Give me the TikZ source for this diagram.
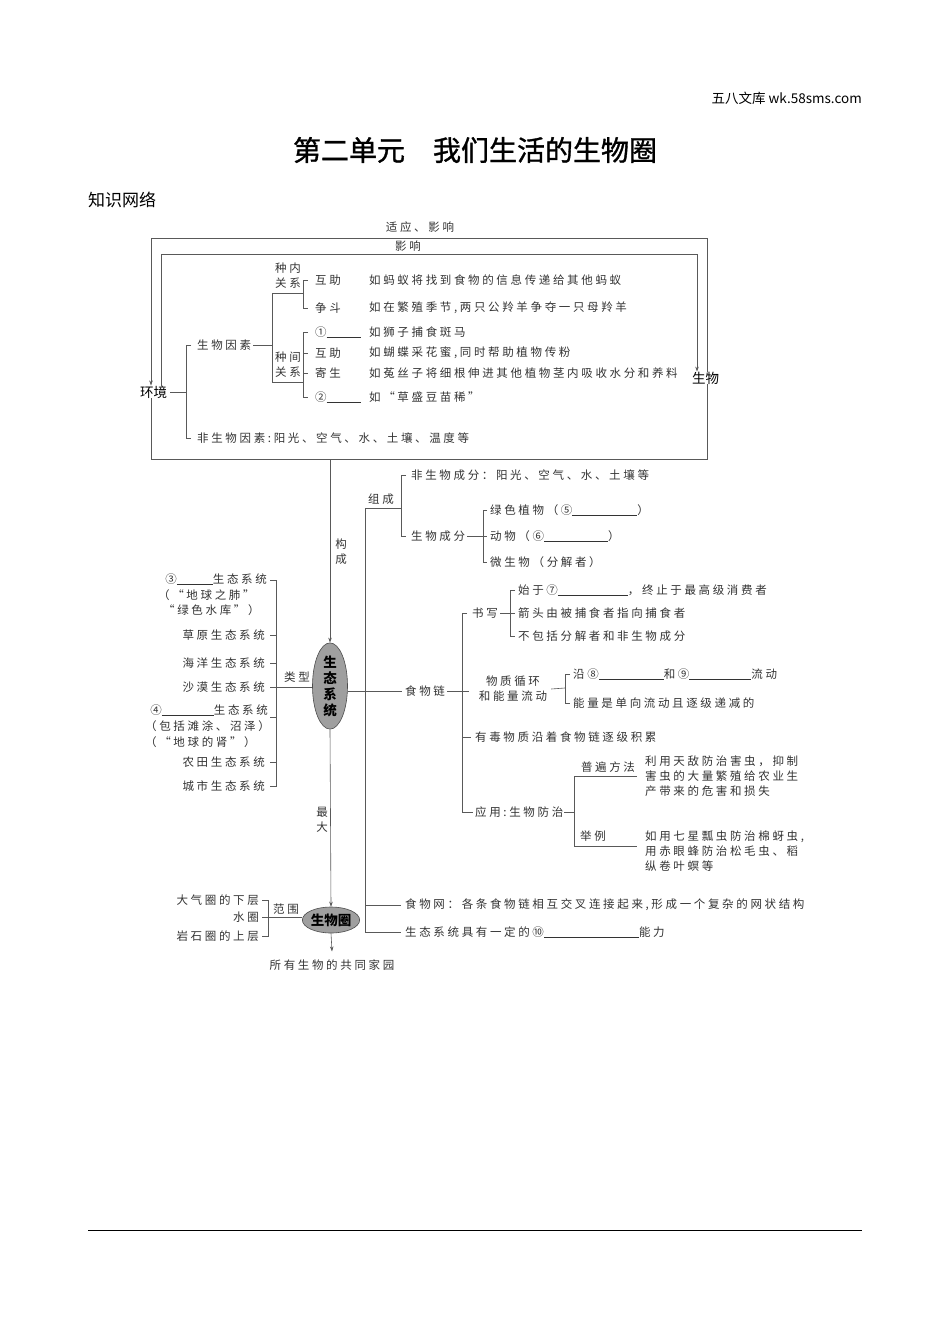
\documentclass[tikz,border=0pt]{standalone}
\usepackage{fontspec}
\newfontfamily\cjk{Noto Sans CJK SC}
\newfontfamily\cjkb[FakeBold=1.2]{Noto Sans CJK SC}
\newfontfamily\cjksp[LetterSpace=23]{Noto Sans CJK SC}
\usetikzlibrary{arrows.meta,shapes.geometric}
\newcommand{\blank}[1]{\rule[-1.5pt]{#1pt}{0.5pt}}
\begin{document}
\begin{tikzpicture}[x=1pt,y=-1pt,
 tx/.style={font={\cjksp\fontsize{11.5}{15}\selectfont},text=black!80,inner sep=0pt,anchor=west},
 txe/.style={tx,anchor=east},
 lab/.style={tx,anchor=center,align=center},
 ln/.style={draw=black!65,line width=0.6pt},
 arr/.style={ln,-{Stealth[length=5pt,width=3.5pt]}},
 big/.style={font={\cjk\fontsize{13.5}{16}\selectfont},text=black,inner sep=0pt},
 oval/.style={ellipse,draw=black!70,fill=gray!75,line width=0.6pt,inner sep=0pt,
   font={\cjk\bfseries\fontsize{13.5}{16}\selectfont},text=black,align=center}]
\useasboundingbox (0,0) rectangle (950,1344);
\fill[white] (0,0) rectangle (950,1344);

% header
\node[big,anchor=east] (hdr) at (862,98) {五八文库 wk.58sms.com};
\node[font={\cjkb\fontsize{28}{32}\selectfont},inner sep=0pt] (title) at (475,150) {第二单元　我们生活的生物圈};
\node[font={\cjk\fontsize{17}{20}\selectfont},inner sep=0pt,anchor=west] (kn) at (88,200) {知识网络};

% top box
\node[big,anchor=west] (env) at (140,392) {环境};
\node[big,anchor=west] (bio) at (692,378) {生物};
\coordinate (otl) at (151,238); \coordinate (obr) at (707,459);
\coordinate (itl) at (161,254); \coordinate (itr) at (697,254);
\draw[ln] (env.south -| otl) -- (otl |- obr) -- (obr) -- (bio.south -| obr);
\draw[arr] (bio.north -| obr) -- (obr |- otl) -- (otl) -- (env.north -| otl);
\draw[arr] (env.north -| itl) -- (itl) -- (itr) -- (bio.north -| itr);
\node[lab] (adapt) at (420,227) {适应、影响};
\node[lab] (infl) at (408,246) {影响};

% factors
\node[tx] (bf) at (197,345) {生物因素};
\node[tx] (abf) at (197,438) {非生物因素:阳光、空气、水、土壤、温度等};
\coordinate (s1) at (186,392);
\draw[ln] ([xshift=3pt]env.east) -- (s1);
\draw[ln] ([xshift=-6pt]bf.west) -| (s1 |- abf.west) -- ([xshift=-6pt]abf.west);

\coordinate (s2a) at (272,293); \coordinate (s2b) at (272,382);
\coordinate (s3) at (303,293); \coordinate (s4) at (303,382);
\draw[ln] ([xshift=2pt]bf.east) -- (s2a |- bf.east);
\draw[ln] (s3) -- (s2a) -- (s2b) -- (s4);
\node[lab] (znl) at (288,275.5) {种内\\关系};
\node[lab] (jnl) at (288,365) {种间\\关系};

\node[tx] (zn1) at (315,280) {互助};
\node[tx] (zn2) at (315,308) {争斗};
\node[tx] (ex1) at (369,280) {如蚂蚁将找到食物的信息传递给其他蚂蚁};
\node[tx] (ex2) at (369,308) {如在繁殖季节,两只公羚羊争夺一只母羚羊};
\draw[ln] ([xshift=-7pt]zn1.west) -| (s3 |- zn2.west) -- ([xshift=-7pt]zn2.west);

\node[tx] (jn1) at (315,332) {①\blank{34}};
\node[tx] (jn2) at (315,353) {互助};
\node[tx] (jn3) at (315,373) {寄生};
\node[tx] (jn4) at (315,397) {②\blank{34}};
\node[tx] (jx1) at (369,332) {如狮子捕食斑马};
\node[tx] (jx2) at (369,353) {如蝴蝶采花蜜,同时帮助植物传粉};
\node[tx] (jx3) at (369,373) {如菟丝子将细根伸进其他植物茎内吸收水分和养料};
\node[tx] (jx4) at (369,397) {如“草盛豆苗稀”};
\draw[ln] ([xshift=-7pt]jn1.west) -| (s4 |- jn4.west) -- ([xshift=-7pt]jn4.west);
\draw[ln] (s4 |- jn2.west) -- ([xshift=-7pt]jn2.west);
\draw[ln] (s4 |- jn3.west) -- ([xshift=-7pt]jn3.west);

% ecosystem
\node[oval,minimum width=35pt,minimum height=85pt] (eco) at (330,686) {生\\态\\系\\统};
\coordinate (bb) at (330,459);
\draw[arr] (bb) -- (eco.north);
\node[lab] (gc) at (341,552) {构\\成};

\coordinate (v1) at (365,508); \coordinate (v2) at (365,932);
\coordinate (s5) at (401,508);
\draw[ln] (v2) -- (v1) -- (s5);
\node[lab] (zc) at (381,499) {组成};
\node[tx] (c1) at (411,475) {非生物成分：阳光、空气、水、土壤等};
\node[tx] (c2) at (411,536) {生物成分};
\draw[ln] ([xshift=-5pt]c1.west) -| (s5 |- c2.west) -- ([xshift=-5pt]c2.west);
\coordinate (s6) at (483,536);
\draw[ln] ([xshift=2pt]c2.east) -- (s6);
\node[tx] (d1) at (490,510) {绿色植物（⑤\blank{65}）};
\node[tx] (d2) at (490,536) {动物（⑥\blank{64}）};
\node[tx] (d3) at (490,562) {微生物（分解者）};
\draw[ln] ([xshift=-3pt]d1.west) -| (s6 |- d3.west) -- ([xshift=-3pt]d3.west);
\draw[ln] (s6) -- ([xshift=-3pt]d2.west);

% food chain
\node[tx] (fc) at (405,691) {食物链};
\draw[ln] (eco.east |- fc.west) -- ([xshift=-3pt]fc.west);
\coordinate (s7a) at (462,613); \coordinate (s7b) at (462,812);
\node[tx] (sx) at (472,613) {书写};
\node[lab] (wz) at (513,689) {物质循环\\和能量流动};
\node[tx] (yd) at (475,737) {有毒物质沿着食物链逐级积累};
\node[tx] (yy) at (475,812) {应用:生物防治};
\draw[ln] ([xshift=2pt]fc.east) -- ([xshift=-10pt]wz.west |- fc.east);
\draw[ln] ([xshift=-5pt]sx.west) -| (s7b) -- ([xshift=-2pt]yy.west);
\draw[ln] (s7a |- yd.west) -- ([xshift=-4pt]yd.west);

\coordinate (s8) at (510,613);
\draw[ln] ([xshift=2pt]sx.east) -- (s8);
\node[tx] (w1) at (518,590) {始于⑦\blank{70}，终止于最高级消费者};
\node[tx] (w2) at (518,613) {箭头由被捕食者指向捕食者};
\node[tx] (w3) at (518,636) {不包括分解者和非生物成分};
\draw[ln] ([xshift=-3pt]w1.west) -| (s8 |- w3.west) -- ([xshift=-3pt]w3.west);
\draw[ln] (s8) -- ([xshift=-3pt]w2.west);

\coordinate (s9) at (565,688);
\draw[ln] ([xshift=4pt]wz.east) -- (s9);
\node[tx] (f1) at (573,674) {沿⑧\blank{65}和⑨\blank{62}流动};
\node[tx] (f2) at (573,703) {能量是单向流动且逐级递减的};
\draw[ln] ([xshift=-3pt]f1.west) -| (s9 |- f2.west) -- ([xshift=-3pt]f2.west);

\coordinate (s10) at (574,812);
\coordinate (s10a) at (574,776); \coordinate (s10b) at (574,846);
\coordinate (e10a) at (637,776); \coordinate (e10b) at (637,846);
\draw[ln] ([xshift=1pt]yy.east) -- (s10);
\draw[ln] (e10a) -- (s10a) -- (s10b) -- (e10b);
\node[lab] (pb) at (608,767) {普遍方法};
\node[tx] (jl) at (580,836) {举例};
\node[tx,align=left] (g1) at (645,776) {利用天敌防治害虫，抑制\\害虫的大量繁殖给农业生\\产带来的危害和损失};
\node[tx,align=left] (g2) at (645,851) {如用七星瓢虫防治棉蚜虫,\\用赤眼蜂防治松毛虫、稻\\纵卷叶螟等};

\node[tx] (n1) at (405,905) {食物网：各条食物链相互交叉连接起来,形成一个复杂的网状结构};
\node[tx] (n2) at (405,932) {生态系统具有一定的⑩\blank{95}能力};
\draw[ln] (v1 |- n1.west) -- ([xshift=-4pt]n1.west);
\draw[ln] (v2) -- ([xshift=-4pt]n2.west);

% types
\node[txe] (t1) at (267,579) {③\blank{36}生态系统};
\node[tx] (t1b) at (158,595) {（“地球之肺”};
\node[tx] (t1c) at (163,610) {“绿色水库”）};
\node[txe] (t2) at (265,635) {草原生态系统};
\node[txe] (t3) at (265,663) {海洋生态系统};
\node[txe] (t4) at (265,687) {沙漠生态系统};
\node[txe] (t5) at (268,710) {④\blank{52}生态系统};
\node[tx] (t5b) at (145,726) {（包括滩涂、沼泽）};
\node[tx] (t5c) at (145,742) {（“地球的肾”）};
\node[txe] (t6) at (265,762) {农田生态系统};
\node[txe] (t7) at (265,786) {城市生态系统};
\coordinate (s11a) at (276,580); \coordinate (s11b) at (276,786);
\coordinate (s11c) at (276,717);
\draw[ln] ([xshift=-6pt]s11a) -- (s11a) -- (s11b) -- ([xshift=-6pt]s11b);
\draw[ln] (s11a |- t2.east) -- ++(-6,0);
\draw[ln] (s11a |- t3.east) -- ++(-6,0);
\draw[ln] (s11c) -- ++(-6,0);
\draw[ln] (s11a |- t6.east) -- ++(-6,0);
\draw[ln] ([xshift=5pt]t4.east) -- (eco.west |- t4.east);
\node[lab] (lx) at (297,677) {类型};

% biosphere
\node[oval,minimum width=48pt,minimum height=26pt] (bio2) at (331,920) {生物圈};
\draw[arr] (eco.south) -- (bio2.north);
\node[lab] (zd) at (322,820) {最\\大};
\node[lab] (home) at (332,965) {所有生物的共同家园};
\draw[arr] (bio2.south) -- ([yshift=8pt]home.north);
\node[txe] (sq1) at (259,900) {大气圈的下层};
\node[txe] (sq2) at (259,917) {水圈};
\node[txe] (sq3) at (259,936) {岩石圈的上层};
\coordinate (s12a) at (268,900); \coordinate (s12b) at (268,936);
\draw[ln] ([xshift=-6pt]s12a) -- (s12a) -- (s12b) -- ([xshift=-6pt]s12b);
\draw[ln] ([xshift=3pt]sq2.east) -- (bio2.west |- sq2.east);
\node[lab] (fw) at (286,909) {范围};

% footer rule
\coordinate (fl) at (88,1230); \coordinate (fr) at (862,1230);
\draw[black,line width=0.6pt] (fl) -- (fr);
\end{tikzpicture}
\end{document}
